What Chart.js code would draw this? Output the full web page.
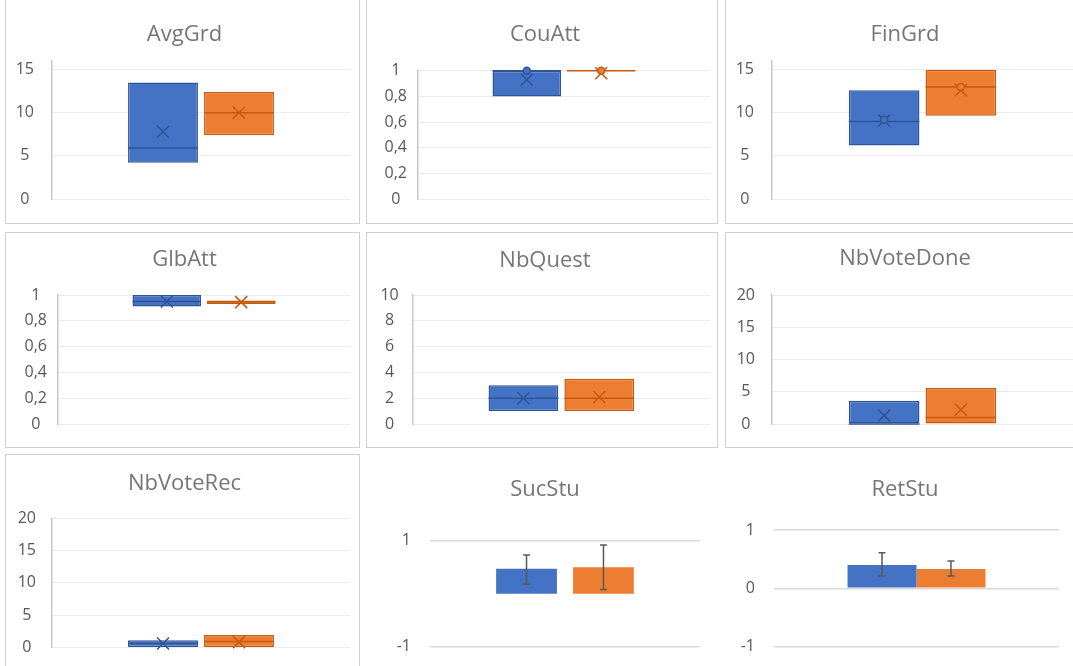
<!DOCTYPE html>
<html>
<head>
<meta charset="utf-8">
<script src="https://cdn.jsdelivr.net/npm/chart.js@4.4.1/dist/chart.umd.min.js"></script>
<style>
  html, body { margin: 0; padding: 0; background: #fff; overflow: hidden; }
  body { width: 1073px; height: 666px; position: relative; }
  .panel { position: absolute; box-sizing: border-box; border: 1px solid #d0d0d0; background: #fff; overflow: hidden; }
  .panel.plain { border-color: transparent; }
  canvas { display: block; }
</style>
</head>
<body>
<script>
// box plot panels (Excel style: box = Q1..Q3, line = median, x = mean)
const boxTitles = ['AvgGrd', 'CouAtt', 'FinGrd', 'GlbAtt', 'NbQuest', 'NbVoteDone', 'NbVoteRec'];
const blueQ1 = [4.2, 0.8, 6.2, 0.91, 1.0, 0, 0.05];
const blueQ3 = [13.5, 1.0, 12.6, 1.0, 3.0, 3.6, 1.1];
const blueMedian = [5.9, 1.0, 9.0, 0.95, 2.0, 0, 0.6];
const blueMean = [7.8, 0.93, 9.1, 0.95, 2.0, 1.3, 0.6];
const blueDot = [null, 1.0, 9.2, null, null, null, null];
const orangeQ1 = [7.4, 1.0, 9.65, 0.93, 1.0, 0, 0.05];
const orangeQ3 = [12.4, 1.0, 15.0, 0.958, 3.5, 5.6, 1.9];
const orangeMedian = [10.0, 1.0, 13.0, 0.945, 2.0, 1.0, 0.9];
const orangeMean = [10.0, 0.98, 12.6, 0.945, 2.1, 2.2, 0.8];
const orangeDot = [null, 1.0, 13.0, null, null, null, null];
const boxAxisMax = [16, 1, 16, 1, 10, 20, 20];
const boxAxisStep = [5, 0.2, 5, 0.2, 2, 5, 5];

// bar panels with error bars
const barTitles = ['SucStu', 'RetStu'];
const blueBar = [0.47, 0.40];
const blueErrLow = [0.18, 0.21];
const blueErrHigh = [0.73, 0.61];
const orangeBar = [0.50, 0.33];
const orangeErrLow = [0.08, 0.21];
const orangeErrHigh = [0.92, 0.47];
const barAxisMin = [-1, -1];
const barAxisMax = [1, 1];
const barAxisStep = [2, 1];

// grid of panels
const colLeft = [5, 366, 725];
const colWidth = [355, 352, 352];
const rowTop = [-1, 232, 454];
const rowHeight = [225, 216, 216];

// inside each canvas: title centre, plot top/bottom/left/right, label padding
const layouts = [
  { titleX: 178.5, titleY: 35, top: 61, bottom: 199, left: 46, right: 344, pad: 18 },
  { titleX: 178, titleY: 35, top: 70.7, bottom: 199.3, left: 51, right: 343, pad: 11 },
  { titleX: 179, titleY: 35, top: 61, bottom: 199, left: 46, right: 347, pad: 18 },
  { titleX: 178.5, titleY: 27, top: 62, bottom: 191, left: 52, right: 344, pad: 11 },
  { titleX: 178, titleY: 27.5, top: 62, bottom: 191, left: 45.7, right: 343, pad: 14 },
  { titleX: 179, titleY: 26, top: 62, bottom: 191, left: 46, right: 347, pad: 17 },
  { titleX: 178.5, titleY: 28.5, top: 63.3, bottom: 192.3, left: 46, right: 344, pad: 16 },
  { titleX: 178, titleY: 34.5, top: 85.7, bottom: 191.7, left: 63, right: 333, pad: 19 },
  { titleX: 179, titleY: 34.5, top: 75, bottom: 191.7, left: 48, right: 333, pad: 19 }
];

const BLUE = '#4472c4', BLUE_LINE = '#2f5597';
const ORANGE = '#ed7d31', ORANGE_LINE = '#c55a11';
const FONT = "'Open Sans', 'Liberation Sans', sans-serif";
const TITLE_SIZE = 22;

// median line, mean cross and inner point on each box
const boxMarks = {
  id: 'boxMarks',
  afterDatasetsDraw(chart) {
    const ctx = chart.ctx;
    const y = chart.scales.y;
    chart.data.datasets.forEach((ds, i) => {
      if (ds.median === undefined) return;
      const bar = chart.getDatasetMeta(i).data[0];
      const half = bar.width / 2;
      ctx.save();
      ctx.strokeStyle = ds.borderColor;
      ctx.lineWidth = 1.5;
      const my = y.getPixelForValue(ds.median);
      ctx.beginPath();
      ctx.moveTo(bar.x - half, my);
      ctx.lineTo(bar.x + half, my);
      ctx.stroke();
      const cy = y.getPixelForValue(ds.mean);
      const s = 6;
      ctx.beginPath();
      ctx.moveTo(bar.x - s, cy - s); ctx.lineTo(bar.x + s, cy + s);
      ctx.moveTo(bar.x + s, cy - s); ctx.lineTo(bar.x - s, cy + s);
      ctx.stroke();
      if (ds.dot !== null) {
        const dy = y.getPixelForValue(ds.dot);
        ctx.beginPath();
        ctx.arc(bar.x, dy, 3.5, 0, Math.PI * 2);
        ctx.fillStyle = ds.backgroundColor;
        ctx.fill();
        ctx.stroke();
      }
      ctx.restore();
    });
  }
};

// error bars for the bar panels
const errorBars = {
  id: 'errorBars',
  afterDatasetsDraw(chart) {
    const ctx = chart.ctx;
    const y = chart.scales.y;
    chart.data.datasets.forEach((ds, i) => {
      if (ds.errLow === undefined) return;
      const bar = chart.getDatasetMeta(i).data[0];
      const lo = y.getPixelForValue(ds.errLow);
      const hi = y.getPixelForValue(ds.errHigh);
      const cap = 3.5;
      ctx.save();
      ctx.strokeStyle = '#595959';
      ctx.lineWidth = 1.5;
      ctx.beginPath();
      ctx.moveTo(bar.x, lo); ctx.lineTo(bar.x, hi);
      ctx.moveTo(bar.x - cap, lo); ctx.lineTo(bar.x + cap, lo);
      ctx.moveTo(bar.x - cap, hi); ctx.lineTo(bar.x + cap, hi);
      ctx.stroke();
      ctx.restore();
    });
  }
};

function makePanel(index, plain) {
  const col = index % 3, row = Math.floor(index / 3);
  const div = document.createElement('div');
  div.className = plain ? 'panel plain' : 'panel';
  div.style.left = colLeft[col] + 'px';
  div.style.top = rowTop[row] + 'px';
  div.style.width = colWidth[col] + 'px';
  div.style.height = rowHeight[row] + 'px';
  const canvas = document.createElement('canvas');
  canvas.width = colWidth[col] - 2;
  canvas.height = rowHeight[row] - 2;
  div.appendChild(canvas);
  document.body.appendChild(div);
  return canvas;
}

function padLeft(lay, w) {
  return 2 * lay.titleX - w + (w - lay.right);
}

function baseOptions(lay, w, h, title) {
  const lh = TITLE_SIZE * 1.2;
  return {
    responsive: false,
    animation: false,
    devicePixelRatio: 1,
    layout: { padding: { left: padLeft(lay, w), top: 0, right: w - lay.right, bottom: h - lay.bottom } },
    plugins: {
      legend: { display: false },
      tooltip: { enabled: false },
      title: {
        display: true,
        text: title,
        color: '#767676',
        font: { family: FONT, size: TITLE_SIZE, weight: 'normal' },
        padding: { top: lay.titleY - lh / 2, bottom: lay.top - lay.titleY - lh / 2 }
      }
    }
  };
}

function commaLabel(v) {
  return String(Math.round(v * 10) / 10).replace('.', ',');
}

// keep only ticks that fall on min + k * step
function stepFilter(min, step) {
  return scale => {
    scale.ticks = scale.ticks.filter(t => {
      const k = (t.value - min) / step;
      return Math.abs(k - Math.round(k)) < 1e-6;
    });
  };
}

// fixed axis width, no extra label padding pushing the plot area, labels not clipped
function fixAxis(lay, w) {
  return scale => {
    scale.width = lay.left - padLeft(lay, w);
    scale.paddingTop = 8;
    scale.paddingBottom = 8;
    scale._computeLabelArea = () => null;
  };
}

boxTitles.forEach((title, i) => {
  const canvas = makePanel(i, false);
  const lay = layouts[i];
  const opts = baseOptions(lay, canvas.width, canvas.height, title);
  opts.scales = {
    x: { display: false },
    y: {
      min: 0,
      max: boxAxisMax[i],
      bounds: 'data',
      afterFit: fixAxis(lay, canvas.width),
      afterBuildTicks: stepFilter(0, boxAxisStep[i]),
      ticks: {
        stepSize: boxAxisStep[i],
        crossAlign: 'center',
        padding: lay.pad,
        color: '#595959',
        font: { family: FONT, size: 16 },
        callback: commaLabel
      },
      grid: { color: '#ebebeb', lineWidth: 1, drawTicks: false },
      border: { display: true, color: '#c8c8c8', width: 1.5 }
    }
  };
  new Chart(canvas, {
    type: 'bar',
    data: {
      labels: [''],
      datasets: [
        {
          data: [[blueQ1[i], blueQ3[i]]],
          backgroundColor: BLUE, borderColor: BLUE_LINE, borderWidth: 1.5, borderSkipped: false,
          categoryPercentage: 0.51, barPercentage: 0.92,
          median: blueMedian[i], mean: blueMean[i], dot: blueDot[i]
        },
        {
          data: [[orangeQ1[i], orangeQ3[i]]],
          backgroundColor: ORANGE, borderColor: ORANGE_LINE, borderWidth: 1.5, borderSkipped: false,
          categoryPercentage: 0.51, barPercentage: 0.92,
          median: orangeMedian[i], mean: orangeMean[i], dot: orangeDot[i]
        }
      ]
    },
    options: opts,
    plugins: [boxMarks]
  });
});

barTitles.forEach((title, j) => {
  const i = boxTitles.length + j;
  const canvas = makePanel(i, true);
  const lay = layouts[i];
  const opts = baseOptions(lay, canvas.width, canvas.height, title);
  const cp = j === 0 ? 0.57 : 0.484;
  const bp = j === 0 ? 0.79 : 1.0;
  opts.scales = {
    x: { display: false },
    y: {
      min: barAxisMin[j],
      max: barAxisMax[j],
      afterFit: fixAxis(lay, canvas.width),
      afterBuildTicks: stepFilter(barAxisMin[j], barAxisStep[j]),
      ticks: {
        stepSize: barAxisStep[j],
        crossAlign: 'near',
        padding: lay.pad,
        color: '#595959',
        font: { family: FONT, size: 16 },
        callback: commaLabel
      },
      grid: { color: '#d9d9d9', lineWidth: 1.5, drawTicks: false },
      border: { display: false }
    }
  };
  new Chart(canvas, {
    type: 'bar',
    data: {
      labels: [''],
      datasets: [
        {
          data: [blueBar[j]], backgroundColor: BLUE, borderWidth: 0,
          categoryPercentage: cp, barPercentage: bp,
          errLow: blueErrLow[j], errHigh: blueErrHigh[j]
        },
        {
          data: [orangeBar[j]], backgroundColor: ORANGE, borderWidth: 0,
          categoryPercentage: cp, barPercentage: bp,
          errLow: orangeErrLow[j], errHigh: orangeErrHigh[j]
        }
      ]
    },
    options: opts,
    plugins: [errorBars]
  });
});
</script>
</body>
</html>
